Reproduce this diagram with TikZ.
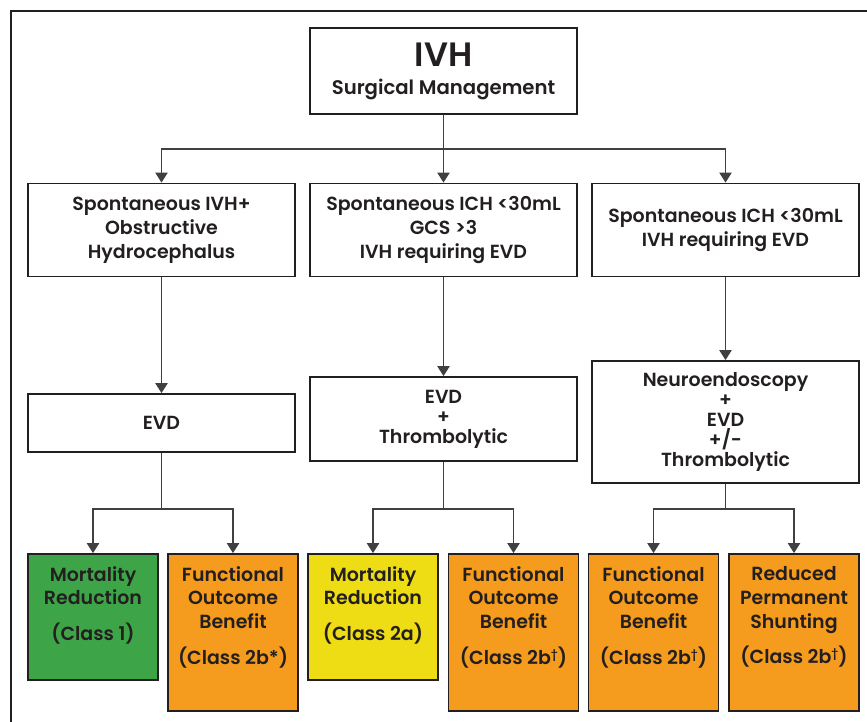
\documentclass[tikz,border=0pt]{standalone}
\usepackage{fontspec}
\setmainfont{Poppins}[BoldFont={* SemiBold}]
\usetikzlibrary{arrows.meta,positioning}
\definecolor{inkline}{HTML}{231F20}
\definecolor{connline}{HTML}{404040}
\definecolor{classgreen}{HTML}{3DA548}
\definecolor{classorange}{HTML}{F59B1E}
\definecolor{classyellow}{HTML}{EEDC14}
\newcommand{\dagsup}{\raisebox{0.55ex}{\fontsize{8}{8}\selectfont\textdagger}}

\begin{document}
\begin{tikzpicture}[x=0.025cm,y=-0.025cm,
    box/.style={draw=inkline, line width=1.3pt, rectangle, align=center, inner sep=0pt,
        minimum width=6.675cm, text=inkline, font=\fontsize{13.5}{17}\selectfont\bfseries},
    tightbox/.style={box, font=\fontsize{13.5}{14.2}\selectfont\bfseries},
    outcome/.style={draw=inkline, line width=1.3pt, rectangle, inner sep=0pt, minimum width=3.25cm},
    outtext/.style={align=center, inner sep=0pt, text=inkline, font=\fontsize{13.5}{17}\selectfont\bfseries},
    conn/.style={draw=connline, line width=0.8pt},
    arr/.style={conn, -{Triangle[width=0.31cm, length=0.25cm]}}]
    \useasboundingbox (0,0) rectangle (867,722);
    \draw[inkline, line width=1.5pt] (11,722) -- (11,11) -- (867,11);

    % Top
    \node[box, minimum height=2.15cm] (ivh) at (443.5,71)
        {{\fontsize{24}{26}\selectfont IVH}\\[3pt] {\fontsize{14}{17}\selectfont Surgical Management}};

    % Patient groups
    \node[box, minimum height=2.325cm] (case1) at (161.5,230) {Spontaneous IVH+\\Obstructive\\Hydrocephalus};
    \node[box, minimum height=2.325cm] (case2) at (443.5,230) {Spontaneous ICH <30mL\\GCS >3\\IVH requiring EVD};
    \node[box, minimum height=2.325cm] (case3) at (725.5,230) {Spontaneous ICH <30mL\\IVH requiring EVD};

    % Treatments
    \node[box, minimum height=1.45cm] (evd1) at (161.5,423) {EVD};
    \node[tightbox, minimum height=2.1cm] (evd2) at (443.5,419) {EVD\\+\\Thrombolytic};
    \node[tightbox, minimum height=3.05cm] (evd3) at (725.5,422) {Neuroendoscopy\\+\\EVD\\+/-\\Thrombolytic};

    % Outcomes
    \node[outcome, fill=classgreen, minimum height=3.15cm] (resA) at (93,617) {};
    \node[outcome, fill=classorange, minimum height=3.925cm] (resB) at (233,632.5) {};
    \node[outcome, fill=classyellow, minimum height=3.15cm] (resC) at (373,617) {};
    \node[outcome, fill=classorange, minimum height=3.925cm] (resD) at (513.5,632.5) {};
    \node[outcome, fill=classorange, minimum height=3.925cm] (resE) at (653.5,632.5) {};
    \node[outcome, fill=classorange, minimum height=3.925cm] (resF) at (794,632.5) {};

    \node[outtext, below=0.32cm of resA.north] (txtA) {Mortality\\Reduction\\[8pt](Class 1)};
    \node[outtext, below=0.32cm of resB.north] (txtB) {Functional\\Outcome\\Benefit\\[8pt](Class 2b*)};
    \node[outtext, below=0.32cm of resC.north] (txtC) {Mortality\\Reduction\\[8pt](Class 2a)};
    \node[outtext, below=0.32cm of resD.north] (txtD) {Functional\\Outcome\\Benefit\\[8pt](Class 2b\dagsup)};
    \node[outtext, below=0.32cm of resE.north] (txtE) {Functional\\Outcome\\Benefit\\[8pt](Class 2b\dagsup)};
    \node[outtext, below=0.32cm of resF.north] (txtF) {Reduced\\Permanent\\Shunting\\[8pt](Class 2b\dagsup)};

    % Connections
    \coordinate (split0) at (443.5,149);
    \draw[conn] (ivh) -- (split0);
    \draw[arr] (split0) -| (case1.north);
    \draw[arr] (split0) -- (case2);
    \draw[arr] (split0) -| (case3.north);

    \draw[arr] (case1) -- (evd1);
    \draw[arr] (case2) -- (evd2);
    \draw[arr] (case3) -- (evd3);

    \coordinate (split1) at (161.5,509);
    \coordinate (split2) at (443.5,509);
    \coordinate (split3) at (725.5,509);
    \draw[conn] (evd1) -- (split1);
    \draw[conn] (evd2) -- (split2);
    \draw[conn] (evd3) -- (split3);
    \draw[arr] (split1) -| (resA.north);
    \draw[arr] (split1) -| (resB.north);
    \draw[arr] (split2) -| (resC.north);
    \draw[arr] (split2) -| (resD.north);
    \draw[arr] (split3) -| (resE.north);
    \draw[arr] (split3) -| (resF.north);

\end{tikzpicture}
\end{document}
